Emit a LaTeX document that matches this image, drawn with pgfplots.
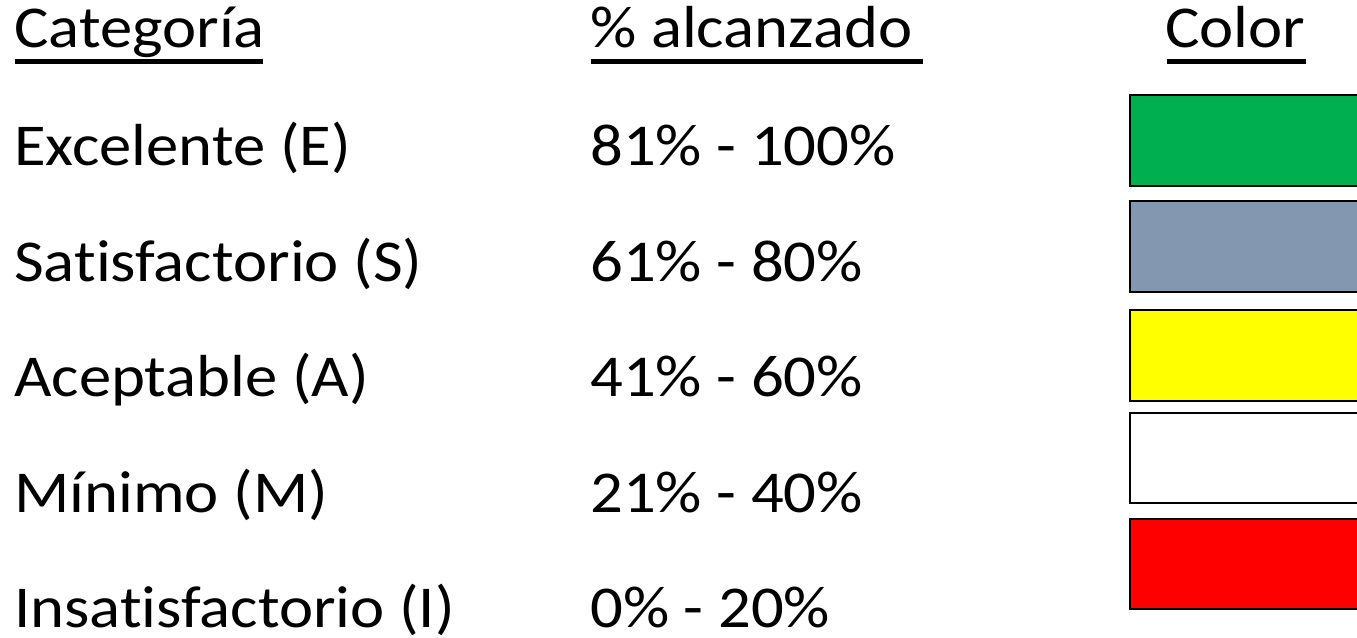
\documentclass[border=0pt]{standalone}
\usepackage{pgfplots}
\pgfplotsset{compat=1.18}
\usepackage{fontspec}
\setmainfont{Carlito}[Ligatures=NoCommon, FakeStretch=1.09]
\definecolor{cE}{HTML}{00B050}
\definecolor{cS}{HTML}{8497B0}
\definecolor{cA}{HTML}{FFFF00}
\definecolor{cM}{HTML}{FFFFFF}
\definecolor{cI}{HTML}{FF0000}
\begin{document}
\begin{tikzpicture}
\begin{axis}[
  name=ax,
  scale only axis,
  width=1017.75pt, height=477.75pt,
  xmin=0, xmax=1357, ymin=0, ymax=637,
  y dir=reverse,
  hide axis,
  clip=true,
]
% colour swatches (x from 1130 to beyond the right edge, y top/bottom in pixels)
\addplot[fill=cE, draw=black, line width=2pt] coordinates {(1130,95) (1420,95) (1420,186) (1130,186)} -- cycle;
\addplot[fill=cS, draw=black, line width=2pt] coordinates {(1130,201) (1420,201) (1420,292) (1130,292)} -- cycle;
\addplot[fill=cA, draw=black, line width=2pt] coordinates {(1130,310) (1420,310) (1420,401) (1130,401)} -- cycle;
\addplot[fill=cM, draw=black, line width=2pt] coordinates {(1130,413) (1420,413) (1420,503) (1130,503)} -- cycle;
\addplot[fill=cI, draw=black, line width=2pt] coordinates {(1130,519) (1420,519) (1420,609) (1130,609)} -- cycle;
\end{axis}
\begin{scope}[x=0.75pt, y=-0.75pt, shift={(ax.north west)}]
\tikzset{t/.style={anchor=base west, inner sep=0pt, font=\fontsize{44.5}{54}\selectfont}}
% headers
\node[t] at (14,48) {Categoría};
\node[t] at (590,48) {\% alcanzado};
\node[t] at (1165,48) {Color};
\draw[line width=3.4pt] (15,61.5) -- (263,61.5);
\draw[line width=3.4pt] (591,61.5) -- (923,61.5);
\draw[line width=3.4pt] (1167,61.5) -- (1306,61.5);
% rows
\node[t] at (14,165.5) {Excelente (E)};
\node[t] at (14,281) {Satisfactorio (S)};
\node[t] at (14,396.5) {Aceptable (A)};
\node[t] at (14,512) {Mínimo (M)};
\node[t] at (14,627.5) {Insatisfactorio (I)};
\node[t] at (590,165.5) {81\% - 100\%};
\node[t] at (590,281) {61\% - 80\%};
\node[t] at (590,396.5) {41\% - 60\%};
\node[t] at (590,512) {21\% - 40\%};
\node[t] at (590,627.5) {0\% - 20\%};
\end{scope}
\pgfresetboundingbox
\useasboundingbox (ax.south west) rectangle (ax.north east);
\end{tikzpicture}
\end{document}
